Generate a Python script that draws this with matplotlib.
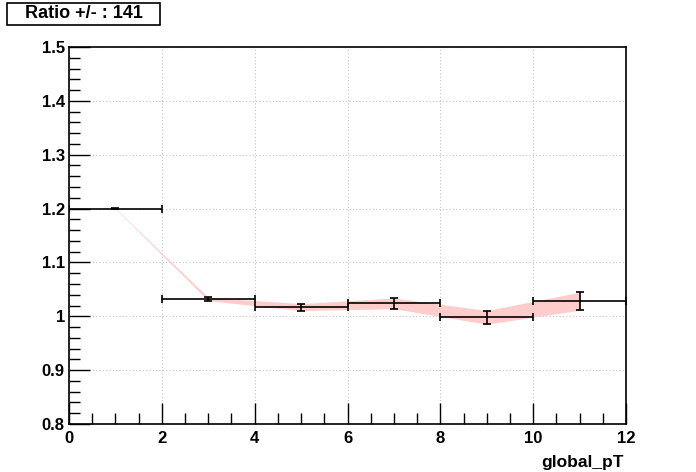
import matplotlib.pyplot as plt
from matplotlib.patches import Rectangle
from matplotlib.ticker import MultipleLocator

# bins of global_pT and the ratio values
bin_centers = [1, 3, 5, 7, 9, 11]
bin_half_widths = [1, 1, 1, 1, 1, 1]
ratio = [1.200, 1.032, 1.017, 1.024, 0.998, 1.028]
ratio_err = [0.0005, 0.003, 0.0065, 0.010, 0.0127, 0.0167]

title_text = "Ratio +/- : 141"
x_label = "global_pT"

plt.rcParams['font.family'] = ['Liberation Sans', 'DejaVu Sans']
plt.rcParams['font.weight'] = 'bold'

fig = plt.figure(figsize=(6.96, 4.72), dpi=100)
ax = fig.add_axes([69 / 696, 1 - 424 / 472, 557 / 696, 377 / 472])

lo = [r - e for r, e in zip(ratio, ratio_err)]
hi = [r + e for r, e in zip(ratio, ratio_err)]
ax.fill_between(bin_centers, lo, hi, color='#ffcccc', linewidth=0, zorder=2)

ax.errorbar(bin_centers, ratio, xerr=bin_half_widths, yerr=ratio_err,
            fmt='none', ecolor='black', elinewidth=1.2, capsize=3,
            capthick=1.2, zorder=3)

ax.set_xlim(0, 12)
ax.set_ylim(0.8, 1.5)
ax.xaxis.set_major_locator(MultipleLocator(2))
ax.xaxis.set_minor_locator(MultipleLocator(0.5))
ax.yaxis.set_major_locator(MultipleLocator(0.1))
ax.yaxis.set_minor_locator(MultipleLocator(0.02))
ax.yaxis.set_major_formatter(plt.FuncFormatter(lambda v, p: f"{v:g}"))

ax.tick_params(which='both', direction='in', top=False, right=False,
               labelsize=12, width=1)
ax.tick_params(axis='y', pad=3)
ax.tick_params(axis='x', pad=5)
ax.tick_params(which='major', length=15)
ax.tick_params(which='minor', length=8)
for lbl in ax.get_xticklabels() + ax.get_yticklabels():
    lbl.set_fontweight('bold')

ax.grid(True, which='major', color='#c4c4c4', linestyle=(0, (1, 2)), linewidth=0.8)
ax.set_axisbelow(True)

for s in ['left', 'bottom']:
    ax.spines[s].set_linewidth(1.2)
for s in ['top', 'right']:
    ax.spines[s].set_linestyle((0, (2, 1)))
    ax.spines[s].set_linewidth(1.2)

fig.text(624 / 696, 1 - 462 / 472, x_label, fontsize=12.5, fontweight='bold',
         ha='right', va='center')

# title box, ROOT style
fig.patches.append(Rectangle((7 / 696, 1 - 25 / 472), 153 / 696, 22 / 472,
                             transform=fig.transFigure, facecolor='white',
                             edgecolor='black', linewidth=1.2))
fig.text(83.5 / 696, 1 - 14 / 472, title_text, fontsize=13, fontweight='bold',
         ha='center', va='center')

fig.savefig('out.png', dpi=100)
